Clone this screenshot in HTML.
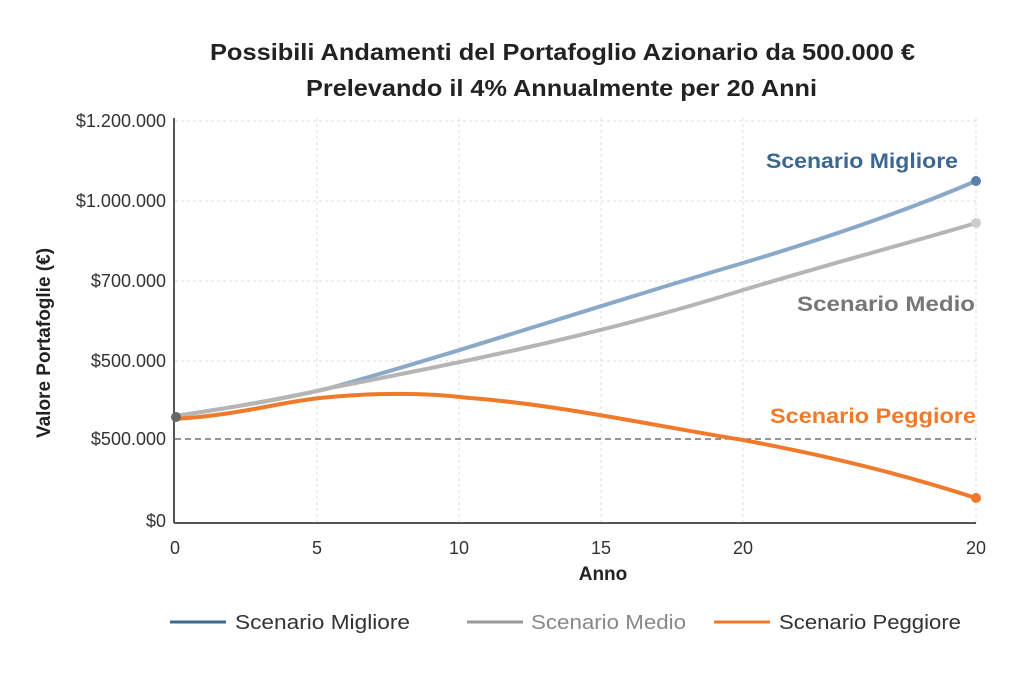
<!DOCTYPE html>
<html><head><meta charset="utf-8"><style>
body{margin:0;background:#fff;}
svg{display:block;font-family:"Liberation Sans","DejaVu Sans",sans-serif;}
</style></head><body>
<svg width="1024" height="682" viewBox="0 0 1024 682" xmlns="http://www.w3.org/2000/svg">
<rect width="1024" height="682" fill="#fff"/>
<text x="210" y="60" font-size="23" font-weight="bold" fill="#222" textLength="705" lengthAdjust="spacingAndGlyphs">Possibili Andamenti del Portafoglio Azionario da 500.000 €</text>
<text x="306" y="96" font-size="23" font-weight="bold" fill="#222" textLength="511" lengthAdjust="spacingAndGlyphs">Prelevando il 4% Annualmente per 20 Anni</text>
<g stroke="#ddd" stroke-width="1" stroke-dasharray="3,3">
<line x1="175" y1="121" x2="976" y2="121"/><line x1="175" y1="201" x2="976" y2="201"/>
<line x1="175" y1="281" x2="976" y2="281"/><line x1="175" y1="361" x2="976" y2="361"/>
<line x1="317" y1="118" x2="317" y2="522"/><line x1="459" y1="118" x2="459" y2="522"/>
<line x1="601" y1="118" x2="601" y2="522"/><line x1="743" y1="118" x2="743" y2="522"/>
<line x1="976" y1="118" x2="976" y2="522"/>
</g>
<line x1="175" y1="439" x2="976" y2="439" stroke="#555" stroke-width="1.2" stroke-dasharray="6,4"/>
<line x1="174" y1="118" x2="174" y2="523" stroke="#555" stroke-width="2"/>
<line x1="174" y1="523" x2="976" y2="523" stroke="#555" stroke-width="2"/>
<g font-size="18" fill="#333" text-anchor="end">
<text x="166" y="127">$1.200.000</text><text x="166" y="207">$1.000.000</text>
<text x="166" y="287">$700.000</text><text x="166" y="367">$500.000</text>
<text x="166" y="445">$500.000</text><text x="166" y="527">$0</text>
</g>
<g font-size="18" fill="#333" text-anchor="middle">
<text x="175" y="554">0</text><text x="317" y="554">5</text><text x="459" y="554">10</text>
<text x="601" y="554">15</text><text x="743" y="554">20</text><text x="976" y="554">20</text>
</g>
<text x="603" y="580" text-anchor="middle" font-size="19" font-weight="bold" fill="#222">Anno</text>
<text transform="translate(50,343) rotate(-90)" text-anchor="middle" font-size="19" font-weight="bold" fill="#222">Valore Portafoglie (€)</text>
<path d="M175,416 C250,405 300,395 330,388 C450,355 600,305 743,263 C850,231 920,205 976,181" fill="none" stroke="#8aa9c9" stroke-width="4"/>
<path d="M175,416 C250,405 300,395 330,388 C450,365 600,335 743,290 C850,258 920,240 976,223" fill="none" stroke="#b5b5b5" stroke-width="4"/>
<path d="M175,419 C240,415 280,402 320,398 C380,392 430,393 470,398 C560,405 650,425 743,440 C850,460 920,480 976,498" fill="none" stroke="#f07a2a" stroke-width="4"/>
<circle cx="976" cy="181" r="5" fill="#5b7fa6"/>
<circle cx="976" cy="223" r="5" fill="#ccc"/>
<circle cx="976" cy="498" r="5" fill="#f07a2a"/>
<circle cx="176" cy="417" r="5" fill="#666"/>
<text x="766" y="168" font-size="21" font-weight="bold" fill="#3b6790" textLength="192" lengthAdjust="spacingAndGlyphs">Scenario Migliore</text>
<text x="797" y="311" font-size="21" font-weight="bold" fill="#777" textLength="178" lengthAdjust="spacingAndGlyphs">Scenario Medio</text>
<text x="770" y="423" font-size="21" font-weight="bold" fill="#f07a2a" textLength="206" lengthAdjust="spacingAndGlyphs">Scenario Peggiore</text>
<line x1="170" y1="622" x2="226" y2="622" stroke="#3b6790" stroke-width="3"/>
<text x="235" y="629" font-size="20" fill="#333" textLength="175" lengthAdjust="spacingAndGlyphs">Scenario Migliore</text>
<line x1="467" y1="622" x2="523" y2="622" stroke="#999" stroke-width="3"/>
<text x="531" y="629" font-size="20" fill="#888" textLength="155" lengthAdjust="spacingAndGlyphs">Scenario Medio</text>
<line x1="714" y1="622" x2="770" y2="622" stroke="#f07a2a" stroke-width="3"/>
<text x="779" y="629" font-size="20" fill="#333" textLength="182" lengthAdjust="spacingAndGlyphs">Scenario Peggiore</text>
</svg>
</body></html>
